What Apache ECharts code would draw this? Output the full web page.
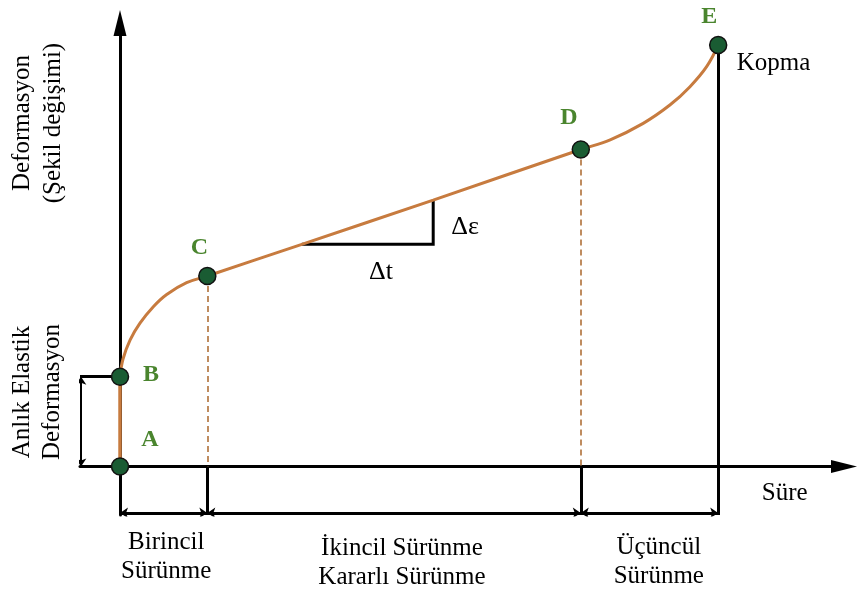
<!DOCTYPE html>
<html>
<head>
<meta charset="utf-8">
<script src="https://cdn.jsdelivr.net/npm/echarts@6/dist/echarts.min.js"></script>
<style>
  html, body { margin: 0; padding: 0; background: #fff; }
  #chart { width: 857px; height: 589px; }
</style>
</head>
<body>
<div id="chart"></div>
<script>
// creep curve: time (t) vs deformation (e)
const curveT = [0, 0.5, 1.67, 3.33, 5.55, 7.78, 11.1, 14.55, 30.3, 52.2, 76.8, 81.7, 87.2, 91.7, 95, 97.8, 99.7];
const curveE = [21.3, 25.5, 30.0, 34.0, 37.9, 40.8, 43.6, 45.2, 52.7, 63.2, 75.2, 77.5, 81.4, 85.8, 90.1, 94.9, 100];

const pointNames = ['A', 'B', 'C', 'D', 'E'];
const pointT = [0, 0, 14.55, 76.8, 99.7];
const pointE = [0, 21.3, 45.2, 75.2, 100];

// stage boundaries on the time axis (A, C, D, E)
const stageBounds = [0, 14.55, 76.8, 99.7];
const stageNames = ['Birincil\nSürünme', 'İkincil Sürünme\nKararlı Sürünme', 'Üçüncül\nSürünme'];
const stageLabelT = [7.7, 47, 89.8];
const stageLabelE = [-21.4, -22.8, -22.6];

// slope triangle on the secondary stage
const triT = [30.3, 52.2, 52.2];
const triE = [52.7, 52.7, 63.2];

const yMin = -11.5;
const dimE = -11.0;      // level of the dimension arrows under the axis
const bracketT = -6.5;   // elastic deformation bracket

const serif = '"Liberation Serif", "Times New Roman", serif';
const curveColor = '#c77b3f';
const green = '#4a852e';

// label offsets of the point letters (pixels)
const letterOffset = [[30, -27], [31, -2], [-8, -28], [-12, -32], [-9, -28]];

const chart = echarts.init(document.getElementById('chart'));

function seg (t1, e1, t2, e2) {
  return { coords: [[t1, e1], [t2, e2]] };
}

const dimArrows = [];
for (let i = 0; i < stageBounds.length - 1; i++) {
  dimArrows.push(seg(stageBounds[i], dimE, stageBounds[i + 1], dimE));
}

const stageTicks = stageBounds.slice(1, 3).map(t => seg(t, 0, t, yMin));
stageTicks.push(seg(pointT[4], pointE[4], pointT[4], yMin));

const dashed = [seg(pointT[2], pointE[2], pointT[2], 0), seg(pointT[3], pointE[3], pointT[3], 0)];

const textItems = [
  { value: [57.5, 56.8], label: { formatter: 'Δε', fontSize: 26 } },
  { value: [43.5, 46.1], label: { formatter: 'Δt', fontSize: 26 } },
  { value: [102.8, 95.7], label: { formatter: 'Kopma', align: 'left' } },
  { value: [110.8, -6.3], label: { formatter: 'Süre' } }
];
stageNames.forEach((name, i) => {
  textItems.push({ value: [stageLabelT[i], stageLabelE[i]], label: { formatter: name } });
});

const axisCommon = {
  type: 'value',
  axisLine: {
    onZero: true,
    symbol: ['none', 'triangle'],
    symbolSize: [13, 26],
    lineStyle: { color: '#000', width: 3 }
  },
  axisTick: { show: false },
  axisLabel: { show: false },
  splitLine: { show: false }
};

const option = {
  animation: false,
  backgroundColor: '#fff',
  grid: { left: 80, right: 13, top: 23, bottom: 74 },
  xAxis: Object.assign({ min: -6.67, max: 120.67 }, axisCommon),
  yAxis: Object.assign({ min: yMin, max: 105.2 }, axisCommon),
  graphic: [
    {
      type: 'text', x: 38, y: 123, rotation: Math.PI / 2,
      style: { text: 'Deformasyon\n(Şekil değişimi)', align: 'center', verticalAlign: 'middle', font: '25px ' + serif, lineHeight: 31, fill: '#000' }
    },
    {
      type: 'text', x: 37, y: 392, rotation: Math.PI / 2,
      style: { text: 'Anlık Elastik\nDeformasyon', align: 'center', verticalAlign: 'middle', font: '25px ' + serif, lineHeight: 30, fill: '#000' }
    }
  ],
  series: [
    {
      // dashed guides from C and D
      type: 'lines', coordinateSystem: 'cartesian2d', z: 3,
      lineStyle: { color: '#b9804f', width: 1.8, type: [6, 4], opacity: 1 },
      data: dashed
    },
    {
      // stage boundaries and fracture line
      type: 'lines', coordinateSystem: 'cartesian2d', z: 3,
      lineStyle: { color: '#000', width: 3, opacity: 1 },
      data: stageTicks
    },
    {
      // dimension arrows under the time axis
      type: 'lines', coordinateSystem: 'cartesian2d', z: 3,
      symbol: ['arrow', 'arrow'], symbolSize: 8,
      lineStyle: { color: '#000', width: 3, opacity: 1 },
      data: dimArrows
    },
    {
      // elastic deformation bracket
      type: 'lines', coordinateSystem: 'cartesian2d', z: 3,
      lineStyle: { color: '#000', width: 3, opacity: 1 },
      data: [seg(-6.67, pointE[1], 0, pointE[1])]
    },
    {
      type: 'lines', coordinateSystem: 'cartesian2d', z: 3,
      symbol: ['arrow', 'arrow'], symbolSize: 8,
      lineStyle: { color: '#000', width: 2, opacity: 1 },
      data: [seg(bracketT, 0, bracketT, pointE[1])]
    },
    {
      // slope triangle
      type: 'lines', coordinateSystem: 'cartesian2d', polyline: true, z: 3,
      lineStyle: { color: '#000', width: 3, opacity: 1 },
      data: [{ coords: triT.map((t, i) => [t, triE[i]]) }]
    },
    {
      // instant elastic part A-B
      type: 'line', z: 4, showSymbol: false,
      lineStyle: { color: curveColor, width: 3.5 },
      data: [[pointT[0], pointE[0]], [pointT[1], pointE[1]]]
    },
    {
      type: 'line', z: 4, smooth: 0.4, showSymbol: false,
      lineStyle: { color: curveColor, width: 3 },
      data: curveT.map((t, i) => [t, curveE[i]])
    },
    {
      type: 'scatter', z: 5, clip: false,
      symbolSize: 17,
      itemStyle: { color: '#1a5c33', borderColor: '#111', borderWidth: 1.5, opacity: 1 },
      label: {
        show: true, position: 'inside', color: green,
        fontFamily: serif, fontWeight: 'bold', fontSize: 24
      },
      data: pointNames.map((name, i) => ({
        value: [pointT[i], pointE[i]],
        label: { formatter: name, offset: letterOffset[i] }
      }))
    },
    {
      type: 'scatter', z: 5, clip: false, symbolSize: 0, silent: true,
      itemStyle: { opacity: 1 },
      label: {
        show: true, position: 'inside', color: '#000',
        fontFamily: serif, fontSize: 25, lineHeight: 29
      },
      data: textItems
    }
  ]
};

chart.setOption(option);
</script>
</body>
</html>
